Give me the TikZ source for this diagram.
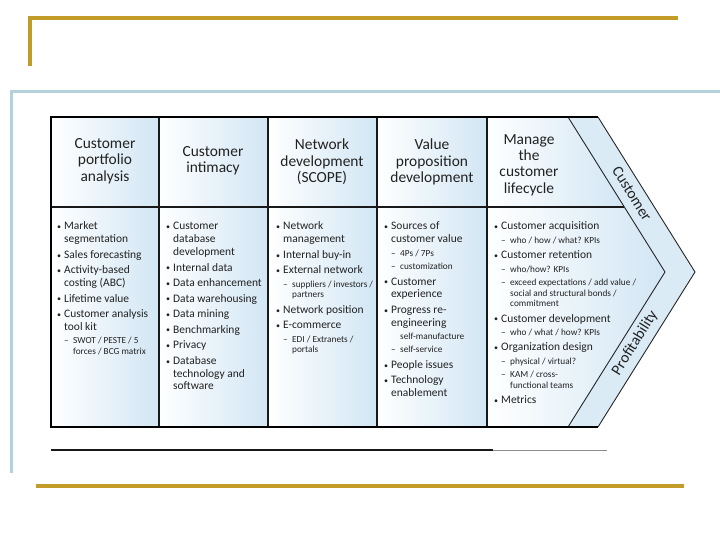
\documentclass[tikz,border=0pt]{standalone}
\usepackage{fontspec}
\setmainfont{Carlito}
\definecolor{goldc}{HTML}{C39B28}
\definecolor{framec}{HTML}{B4D0DA}
\definecolor{cellblue}{HTML}{D2E6F4}
\definecolor{bandblue}{HTML}{DAEBF6}
\definecolor{inkc}{HTML}{222222}
\newlength{\itgap}\setlength{\itgap}{2.8bp}
\newcommand{\mainsz}{\fontsize{11.5}{12.8}\selectfont}
\newcommand{\subsz}{\fontsize{9.3}{10.6}\selectfont}
\newcommand{\nl}{\hfil\break}
\newcommand{\mi}[1]{{\mainsz\noindent\hangindent=7bp\hangafter=1\makebox[7bp][l]{\raisebox{0.3bp}{\fontsize{8}{8}\selectfont\textbullet}}#1\par}\vspace{\itgap}}
\newcommand{\sub}[1]{{\subsz\noindent\hangindent=16bp\hangafter=1\hspace*{7bp}\makebox[9bp][l]{--}#1\par}\vspace{\itgap}}
\newcommand{\subnd}[1]{{\subsz\noindent\hspace*{16bp}#1\par}\vspace{\itgap}}
\newenvironment{colbody}[1]{\begin{minipage}[t]{#1}\parindent=0pt\parskip=0pt\parfillskip=0pt plus 1fil\hyphenpenalty=10000\exhyphenpenalty=10000\hbadness=10000\hfuzz=50bp}{\end{minipage}}
\begin{document}
\begin{tikzpicture}[x=1bp,y=-1bp,
  goldline/.style={draw=goldc,line width=3.2bp},
  frameline/.style={draw=framec,line width=3bp},
  outer/.style={draw=black,line width=2bp},
  colline/.style={draw=black!90,line width=1.3bp},
  chev/.style={draw=black!85,line width=0.9bp,line join=miter},
  hdr/.style={align=center,font=\fontsize{15.5}{16.5}\selectfont,inner sep=0pt,text=inkc},
  lbl/.style={font=\fontsize{15.5}{16.5}\selectfont,inner sep=0pt,text=inkc},
  body/.style={anchor=base west,inner sep=0pt,text=inkc}]
\useasboundingbox (0,0) rectangle (720,540);
% slide decoration
\draw[goldline] (30,66) -- (30,18) -- (678,18);
\draw[frameline] (11,473) -- (11,92) -- (720,92);
\draw[goldline] (36,486) -- (684,486);
% cell shading
\foreach \xa/\xb in {51/159,159/268,268/377,377/487}{
  \shade[left color=white,right color=cellblue] (\xa,117) rectangle (\xb,207);
  \shade[left color=white,right color=cellblue] (\xa,207) rectangle (\xb,427);
}
\shade[left color=white,right color=cellblue] (487,117) -- (568,117) -- (624,207) -- (487,207) -- cycle;
\shade[left color=white,right color=cellblue] (487,207) -- (624,207) -- (665,272) -- (568,427) -- (487,427) -- cycle;
\fill[bandblue] (568,117) -- (598,117) -- (695,272) -- (598,427) -- (568,427) -- (665,272) -- cycle;
% grid lines
\foreach \x in {159,268,377,487}{\draw[colline] (\x,117) -- (\x,427);}
\draw[colline] (51,207) -- (624,207);
\draw[chev] (568,117) -- (665,272) -- (568,427);
\draw[chev] (598,117) -- (695,272) -- (598,427);
\draw[outer] (598,117) -- (51,117) -- (51,427) -- (598,427);
% bottom rule
\draw[black!90,line width=2bp] (51,450) -- (493,450);
\draw[black!45,line width=1bp] (493,450) -- (607,450);
% headers
\node[hdr] (h1) at (105,161) {Customer\\portfolio\\analysis};
\node[hdr] (h2) at (213,161) {Customer\\intimacy};
\node[hdr] (h3) at (322,162) {Network\\development\\(SCOPE)};
\node[hdr] (h4) at (432,162) {Value\\proposition\\development};
\node[hdr] (h5) at (529,165) {Manage\\the\\customer\\lifecycle};
\node[lbl,rotate=-58] (lc) at (632,194) {Customer};
\node[lbl,rotate=58] (lp) at (635,343) {Profitability};
% bodies
\node[body] (b1) at (57,230) {\begin{colbody}{100bp}
\mi{Market\nl segmentation}
\mi{Sales forecasting}
\mi{Activity-based\nl costing (ABC)}
\mi{Lifetime value}
\mi{Customer analysis\nl tool kit}
\sub{SWOT / PESTE / 5\nl forces / BCG matrix}
\end{colbody}};
\node[body] (b2) at (166,230) {\begin{colbody}{100bp}
\mi{Customer\nl database\nl development}
\mi{Internal data}
\mi{Data enhancement}
\mi{Data warehousing}
\mi{Data mining}
\mi{Benchmarking}
\mi{Privacy}
\mi{Database\nl technology and\nl software}
\end{colbody}};
\node[body] (b3) at (276,230) {\begin{colbody}{100bp}
\mi{Network\nl management}
\mi{Internal buy-in}
\mi{External network}
\sub{suppliers / investors /\nl partners}
\mi{Network position}
\mi{E-commerce}
\sub{EDI / Extranets /\nl portals}
\end{colbody}};
\node[body] (b4) at (384,230) {\begin{colbody}{100bp}
\mi{Sources of\nl customer value}
\sub{4Ps / 7Ps}
\sub{customization}
\mi{Customer\nl experience}
\mi{Progress re-\nl engineering}
\subnd{self-manufacture}
\sub{self-service}
\mi{People issues}
\mi{Technology\nl enablement}
\end{colbody}};
\node[body] (b5) at (494,230) {\begin{colbody}{156bp}
\mi{Customer acquisition}
\sub{who / how / what? KPIs}
\mi{Customer retention}
\sub{who/how? KPIs}
\sub{exceed expectations / add value /\nl social and structural bonds /\nl commitment}
\end{colbody}};
\node[body] (b6) at (494,322) {\begin{colbody}{122bp}
\mi{Customer development}
\sub{who / what / how? KPIs}
\mi{Organization design}
\sub{physical / virtual?}
\sub{KAM / cross-\nl functional teams}
\mi{Metrics}
\end{colbody}};
\end{tikzpicture}
\end{document}
